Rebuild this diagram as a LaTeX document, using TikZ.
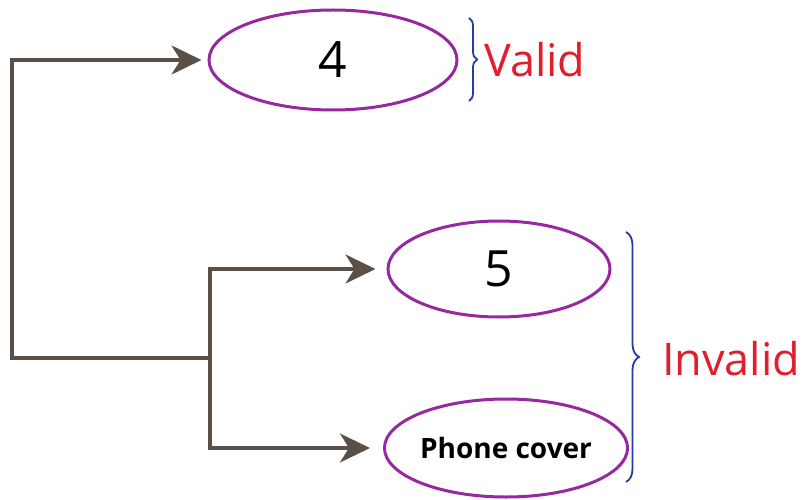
\documentclass[tikz,border=0pt]{standalone}
\usepackage{fontspec}
\setmainfont{Open Sans}
\usetikzlibrary{shapes.geometric,arrows.meta,decorations.pathreplacing}
\definecolor{ellc}{RGB}{150,40,160}
\definecolor{arrc}{RGB}{90,80,72}
\definecolor{bracec}{RGB}{40,60,160}
\definecolor{lblc}{RGB}{225,30,45}
\tikzset{
  oval/.style={ellipse, draw=ellc, line width=3pt, inner sep=0pt, fill=white},
  conn/.style={draw=arrc, line width=3.4pt},
  arr/.style={conn, -{Stealth[length=30pt,width=29pt,inset=9pt]}},
  brc/.style={draw=bracec, line width=1.8pt, decorate, decoration={brace, amplitude=8pt}},
  lbl/.style={text=lblc, font=\fontsize{45}{48}\selectfont, anchor=west, inner sep=0pt},
  num/.style={font=\fontsize{50}{52}\selectfont}
}
\begin{document}
\begin{tikzpicture}[x=1pt,y=-1pt]
\useasboundingbox (0,0) rectangle (811,500);
\node[oval, num, minimum width=248pt, minimum height=100pt] (e4) at (333,60) {4};
\node[oval, num, minimum width=222pt, minimum height=96pt] (e5) at (499,269) {5};
\node[oval, minimum width=232pt, minimum height=98pt, font=\fontsize{28}{30}\selectfont\bfseries] (ep) at (506,448) {Phone cover};
\coordinate (c) at (12,358);
\coordinate (j) at (210,358);
\draw[arr, shorten >=6pt] (j) -- (c) |- (e4.west);
\draw[arr, shorten >=11pt] (j) |- (e5.west);
\draw[arr, shorten >=13pt] (j) |- (ep.west);
\coordinate (b1t) at (469,18);
\coordinate (b1b) at (469,101);
\draw[brc] (b1t) -- (b1b);
\node[lbl] (valid) at (484,60) {Valid};
\coordinate (b2t) at (626,232);
\coordinate (b2b) at (626,482);
\draw[brc, decoration={brace, amplitude=13pt}] (b2t) -- (b2b);
\node[lbl] (invalid) at (662,359) {Invalid};
\end{tikzpicture}
\end{document}
